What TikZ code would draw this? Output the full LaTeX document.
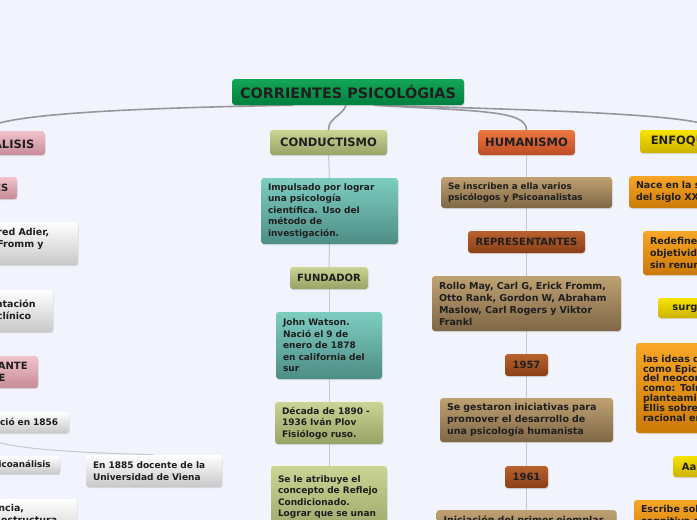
\documentclass[tikz,border=0pt]{standalone}
\usepackage{fontspec}
\setmainfont{DejaVu Sans}
\usetikzlibrary{shadows,backgrounds}

\definecolor{bgc}{HTML}{F1F4FD}
\definecolor{spinec}{HTML}{C4C8D4}
\definecolor{trunkc}{HTML}{96969E}
\definecolor{rootA}{HTML}{14A658}
\definecolor{rootB}{HTML}{00803F}
\definecolor{psiA}{HTML}{F2C3CC}
\definecolor{psiB}{HTML}{C68B97}
\definecolor{olvA}{HTML}{CAD494}
\definecolor{olvB}{HTML}{97A265}
\definecolor{teaA}{HTML}{7ECDC1}
\definecolor{teaB}{HTML}{4D8D85}
\definecolor{humA}{HTML}{EC7842}
\definecolor{humB}{HTML}{BD4C24}
\definecolor{rstA}{HTML}{B8622F}
\definecolor{rstB}{HTML}{8B3F16}
\definecolor{tanA}{HTML}{BFA172}
\definecolor{tanB}{HTML}{7F6746}
\definecolor{yelA}{HTML}{F7E300}
\definecolor{yelB}{HTML}{CDB200}
\definecolor{oraA}{HTML}{F7A626}
\definecolor{oraB}{HTML}{CC7A08}
\definecolor{whtB}{HTML}{C8C8C8}

\begin{document}
\begin{tikzpicture}[x=1pt,y=-1pt]
	\tikzset{
		box/.style={rounded corners=3pt,inner xsep=7pt,inner ysep=2pt,align=left,text=black!88,
			drop shadow={opacity=.22,shadow xshift=.6pt,shadow yshift=-1.2pt},
			execute at begin node={\hyphenpenalty=10000},
			font=\fontsize{9}{11.5}\selectfont\bfseries},
		head/.style={box,align=center,font=\fontsize{11.5}{13}\selectfont\bfseries},
		sub/.style={box,align=center,font=\fontsize{10}{12}\selectfont\bfseries},
		big/.style={font=\fontsize{9.5}{12}\selectfont\bfseries},
		small/.style={font=\fontsize{8.8}{11}\selectfont\bfseries},
		grad/.style 2 args={top color=#1,bottom color=#2},
		psi/.style={grad={psiA}{psiB}},
		olv/.style={grad={olvA}{olvB}},
		tea/.style={grad={teaA}{teaB}},
		humc/.style={grad={humA}{humB}},
		rst/.style={grad={rstA}{rstB}},
		tanc/.style={grad={tanA}{tanB}},
		yel/.style={grad={yelA}{yelB}},
		ora/.style={grad={oraA}{oraB}},
		wht/.style={grad={white}{whtB}},
		spine/.style={draw=spinec,line width=1pt},
		trunk/.style={draw=trunkc,line width=1.6pt},
	}
	\useasboundingbox (0,0) rectangle (697,520);
	\clip (0,0) rectangle (697,520);

	\node[head,grad={rootA}{rootB},minimum width=232,minimum height=26,
		font=\fontsize{14.4}{16}\selectfont\bfseries] (root) at (348,92) {CORRIENTES PSICOLÓGIAS};

	% psicoanalisis
	\node[head,psi,minimum width=120,minimum height=24] (psico) at (-15,143) {PSICOANÁLISIS};
	\node[sub,psi,minimum width=70,minimum height=22] (p1) at (-18,188) {AUTORES};
	\node[box,wht,big,text width=158,minimum height=43] (p2) at (-8,243.5) {Carl G. Jung, Alfred Adier,\\ Otto Rank, Erik Fromm y\\ Melanie Klein};
	\node[box,wht,big,text width=122,minimum height=42] (p3) at (-15,311) {Creó una orientación\\ y del método clínico};
	\node[box,psi,text width=98,minimum height=32,font=\fontsize{10}{11.5}\selectfont\bfseries] (p4) at (-18,372) {REPRESENTANTE\\ IMPORTANTE};
	\node[box,wht,text width=154,minimum height=21] (p5) at (-15,422.5) {Sigmund Freud nació en 1856};
	\node[box,wht,text width=122,minimum height=32] (p6) at (154,471) {En 1885 docente de la\\ Universidad de Viena};
	\node[box,wht,small,text width=142,minimum height=18] (p7) at (-18,465) {Es el padre del psicoanálisis};
	\node[box,wht,big,text width=154,minimum height=44] (p8) at (-7,521) {Sueños, resistencia,\\ del ello, del yo, estructura\\ de la personalidad};

	% conductismo
	\node[head,olv,minimum width=117,minimum height=25] (cond) at (328.5,142.5) {CONDUCTISMO};
	\node[box,tea,text width=123,minimum height=66] (c1) at (329.5,211) {Impulsado por lograr\\ una psicología\\ científica. Uso del\\ método de\\ investigación.};
	\node[sub,olv,minimum width=78,minimum height=22] (c2) at (329,278) {FUNDADOR};
	\node[box,tea,text width=92,minimum height=67] (c3) at (329,345.5) {John Watson.\\ Nació el 9 de\\ enero de 1878\\ en california del\\ sur};
	\node[box,olv,text width=94,minimum height=42] (c4) at (329,423) {Década de 1890 -\\ 1936 Iván Plov\\ Fisiólogo ruso.};
	\node[box,olv,text width=102,minimum height=72] (c5) at (329,502) {Se le atribuye el\\ concepto de Reflejo\\ Condicionado.\\ Lograr que se unan\\ dos estímulos};

	% humanismo
	\node[head,humc,minimum width=95,minimum height=25] (hum) at (526.5,142.5) {HUMANISMO};
	\node[box,tanc,small,text width=157,minimum height=31] (h1) at (526.5,192.5) {Se inscriben a ella varios\\ psicólogos y Psicoanalistas};
	\node[sub,rst,minimum width=117,minimum height=22] (h2) at (526.5,242) {REPRESENTANTES};
	\node[box,tanc,big,text width=175,minimum height=55] (h3) at (526.5,303.5) {Rollo May, Carl G, Erick Fromm,\\ Otto Rank, Gordon W, Abraham\\ Maslow, Carl Rogers y Viktor\\ Frankl};
	\node[sub,rst,minimum width=43,minimum height=22] (h4) at (526.5,365) {1957};
	\node[box,tanc,big,text width=159,minimum height=44] (h5) at (526.5,420) {Se gestaron iniciativas para\\ promover el desarrollo de\\ una psicología humanista};
	\node[sub,rst,minimum width=43,minimum height=22] (h6) at (526.5,477) {1961};
	\node[box,tanc,big,text width=166,minimum height=44] (h7) at (526.5,532) {Iniciación del primer ejemplar\\ de la revista de psicología\\ humanística};

	% enfoque
	\node[head,yel,minimum width=160,minimum height=23] (enf) at (720,141.5) {ENFOQUE COGNITIVO};
	\node[box,ora,big,text width=168,minimum height=32] (e1) at (720,192) {Nace en la segunda mitad\\ del siglo XX};
	\node[box,ora,big,text width=140,minimum height=44] (e2) at (720,253) {Redefine la\\ objetividad científica\\ sin renunciar a ella};
	\node[sub,yel,minimum width=124,minimum height=20] (e3) at (720,308) {surge a partir de};
	\node[box,ora,text width=154,minimum height=90,font=\fontsize{9.5}{9.8}\selectfont\bfseries] (e4) at (720,388) {las ideas de filósofos\\ como Epicteto, y\\ del neoconductismo\\ como: Tolman, y los\\ planteamientos de\\ Ellis sobre la terapia\\ racional emotiva};
	\node[sub,yel,minimum width=94,minimum height=21] (e5) at (720,466.5) {Aaron T. Beck};
	\node[box,ora,big,text width=158,minimum height=44] (e6) at (720,522) {Escribe sobre la terapia\\ cognitiva de la\\ depresión};

	\begin{pgfonlayer}{background}
		\fill[bgc] (0,0) rectangle (697,520);
		\draw[trunk] ([xshift=-55pt]root.south) .. controls +(-173,3) and +(5,-16) .. (psico.north);
		\draw[trunk] ([xshift=-2pt]root.south) .. controls +(-3,10) and +(0,-12) .. (cond.north);
		\draw[trunk] ([xshift=26pt]root.south) .. controls +(100,6) and +(0,-20) .. (hum.north);
		\draw[trunk] ([xshift=32pt]root.south) .. controls +(200,6) and +(-20,-15) .. (enf.north);
		\foreach \a/\b in {psico/p1,p1/p2,p2/p3,p3/p4,p4/p5,p5/p7,p7/p8,
			cond/c1,c1/c2,c2/c3,c3/c4,c4/c5,
			hum/h1,h1/h2,h2/h3,h3/h4,h4/h5,h5/h6,h6/h7,
			enf/e1,e1/e2,e2/e3,e3/e4,e4/e5,e5/e6}
			\draw[spine] (\a.south) -- (\b.north);
		\draw[spine] (p5.south) .. controls +(0,17) and +(-60,-2) .. (p6.north);
	\end{pgfonlayer}
\end{tikzpicture}
\end{document}
